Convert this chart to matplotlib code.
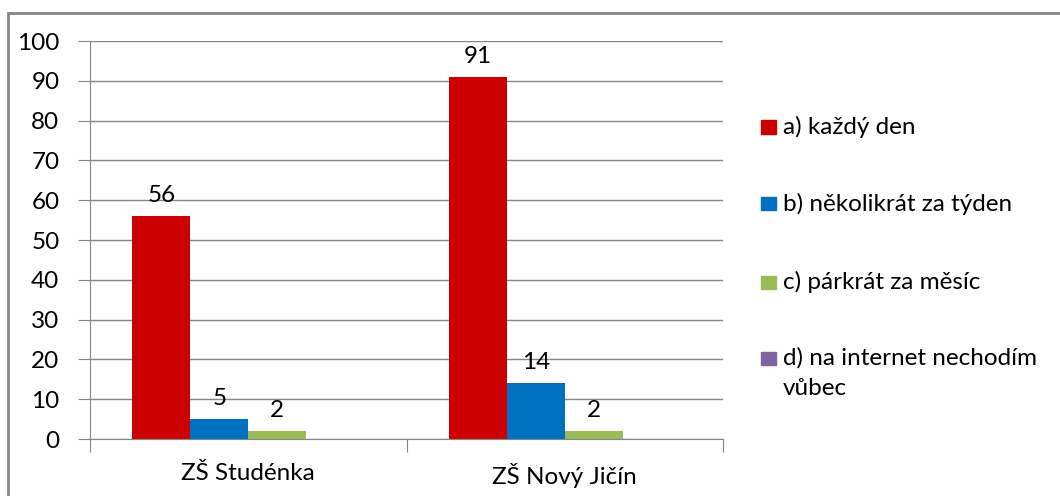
import matplotlib.pyplot as plt
import numpy as np
from matplotlib.patches import Rectangle

plt.rcParams['font.family'] = ['Lato', 'DejaVu Sans']

# data
schools = ['ZŠ Studénka', 'ZŠ Nový Jičín']
series = ['a) každý den', 'b) několikrát za týden', 'c) párkrát za měsíc',
          'd) na internet nechodím\nvůbec']
each_day = [56, 91]
few_week = [5, 14]
few_month = [2, 2]
never = [0, 0]
colors = ['#CC0000', '#0070C0', '#9BBB59', '#8064A2']

values = [each_day, few_week, few_month, never]
fs = 17.5

fig = plt.figure(figsize=(10.6, 4.96), dpi=100)
ax = fig.add_axes([90 / 1060, 1 - 439 / 496, (723 - 90) / 1060, (439 - 41) / 496])

grid_col = '#868686'
x = np.arange(len(schools))
w = 58 / 316.5
for i, (vals, c) in enumerate(zip(values, colors)):
    pos = x - 1.5 * w + i * w
    bars = ax.bar(pos, vals, width=w, color=c, zorder=2)
    if i < 3:
        for b, v in zip(bars, vals):
            ax.text(b.get_x() + b.get_width() / 2, v + 2.5, str(v),
                    ha='center', va='bottom', fontsize=fs, color='black')

ax.set_xlim(-0.5, 1.5)
ax.set_ylim(0, 100)
ax.set_yticks(range(0, 101, 10))
ax.tick_params(axis='y', labelsize=fs, length=9, color=grid_col, pad=13)
ax.yaxis.grid(True, color=grid_col, lw=1, zorder=0)

# category ticks between groups
ax.set_xticks([-0.5, 0.5, 1.5])
ax.set_xticklabels([])
ax.set_xticks(x, minor=True)
ax.set_xticklabels(schools, minor=True, fontsize=fs)
ax.tick_params(axis='x', which='major', length=9, color=grid_col)
ax.tick_params(axis='x', which='minor', length=0, pad=17)

for s in ['top', 'right']:
    ax.spines[s].set_visible(False)
ax.spines['left'].set_color(grid_col)
ax.spines['bottom'].set_color(grid_col)

# legend drawn by hand so the swatch sits on the first text line
leg_y = [127, 204, 282, 358]
for lab, c, yy in zip(series, colors, leg_y):
    fig.patches.append(Rectangle((761 / 1060, 1 - (yy + 6.5) / 496), 15 / 1060, 13 / 496,
                                 transform=fig.transFigure, color=c))
    fig.text(783 / 1060, 1 - (yy - 11) / 496, lab, fontsize=fs, va='top', ha='left',
             linespacing=1.55, transform=fig.transFigure)

# outer chart border
fig.patches.append(Rectangle((8 / 1060, -0.1), 1.2, 1 - 13 / 496 + 0.1,
                             transform=fig.transFigure, fill=False,
                             edgecolor=grid_col, lw=2))

fig.savefig('out.png', dpi=100)
